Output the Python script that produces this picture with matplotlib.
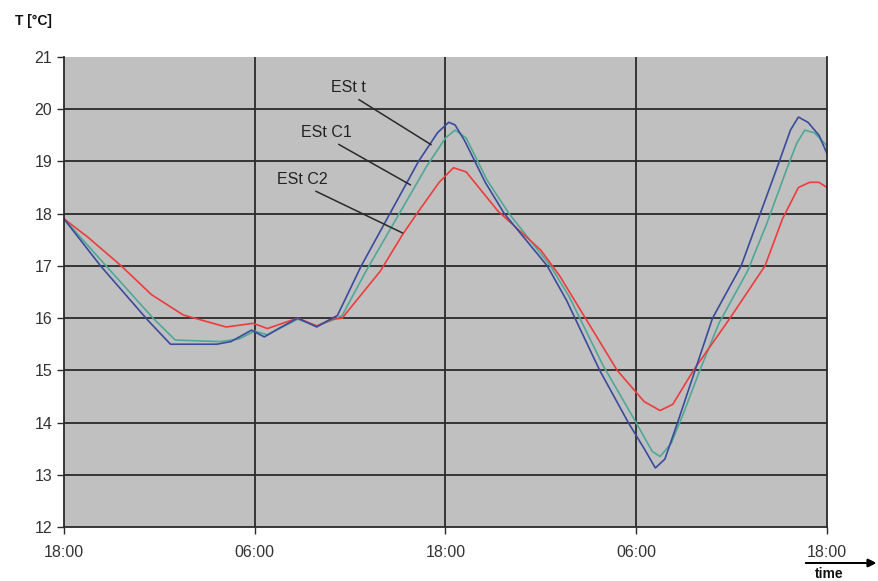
import numpy as np
import matplotlib.pyplot as plt

plt.rcParams['font.family'] = ['Liberation Sans', 'DejaVu Sans']

# time in hours after the first 18:00
t_blue = [0, 2.3, 5.3, 6.7, 9.6, 10.5, 11.8, 12.6, 13.5, 14.7, 15.9, 16.7, 17.2, 18.7,
          20.5, 22.3, 23.5, 24.2, 24.6, 25.2, 26.5, 27.7, 30.4, 31.6, 33.7, 35.5, 36.5,
          37.2, 37.8, 38.6, 39.7, 40.8, 42.6, 43.8, 45.0, 45.7, 46.2, 46.8, 47.5, 48]
est_t = [17.9, 17.0, 15.95, 15.5, 15.5, 15.55, 15.77, 15.64, 15.8, 16.0, 15.83, 15.97, 16.05, 17.0,
         18.0, 19.0, 19.55, 19.75, 19.7, 19.4, 18.6, 18.0, 17.0, 16.35, 15.0, 14.0, 13.5,
         13.13, 13.3, 14.0, 15.0, 16.0, 17.0, 18.0, 19.0, 19.6, 19.85, 19.75, 19.5, 19.15]

t_green = [0, 2.5, 5.6, 7.0, 9.8, 11.0, 12.0, 12.8, 14.7, 15.9, 16.8, 17.5, 19.0, 20.9,
           22.8, 24.0, 24.6, 25.3, 26.6, 28.0, 30.6, 31.8, 33.9, 35.8, 37.0, 37.5, 38.2,
           39.0, 40.0, 41.2, 43.0, 44.2, 45.4, 46.1, 46.6, 47.2, 48]
est_c1 = [17.9, 17.05, 16.0, 15.58, 15.55, 15.6, 15.75, 15.68, 15.98, 15.85, 15.95, 16.05, 16.9, 17.9,
          18.9, 19.45, 19.6, 19.45, 18.65, 18.0, 17.0, 16.4, 15.1, 14.1, 13.45, 13.35, 13.6,
          14.2, 15.0, 15.9, 16.9, 17.8, 18.8, 19.35, 19.6, 19.55, 19.3]

t_red = [0, 1.5, 3.6, 5.5, 7.5, 10.2, 11.9, 12.8, 14.7, 15.9, 16.8, 17.5, 19.9, 21.3,
         22.2, 23.6, 24.5, 25.3, 27.3, 30.0, 31.2, 32.8, 34.8, 36.5, 37.5, 38.3, 39.6,
         41.9, 44.1, 45.2, 46.2, 46.9, 47.5, 48]
est_c2 = [17.9, 17.55, 17.0, 16.45, 16.06, 15.83, 15.9, 15.8, 16.0, 15.85, 15.97, 16.0, 16.9, 17.6,
          18.0, 18.6, 18.88, 18.8, 18.05, 17.3, 16.8, 16.0, 15.0, 14.4, 14.23, 14.35, 15.0,
          16.0, 17.0, 17.9, 18.5, 18.6, 18.6, 18.5]

x_ticks = [0, 12, 24, 36, 48]
x_labels = ['18:00', '06:00', '18:00', '06:00', '18:00']
y_ticks = list(range(12, 22))

fig = plt.figure(figsize=(8.79, 5.81), dpi=100)
ax = fig.add_axes([64 / 879, 1 - 527 / 581, (827 - 64) / 879, (527 - 57) / 581])
ax.set_facecolor('#c0c0c0')

ax.plot(t_green, est_c1, color='#4fa896', lw=1.2)
ax.plot(t_red, est_c2, color='#ee3c3c', lw=1.2)
ax.plot(t_blue, est_t, color='#3a4a9c', lw=1.2)

ax.set_xlim(0, 48)
ax.set_ylim(12, 21)
ax.set_xticks(x_ticks)
ax.set_xticklabels(x_labels)
ax.set_yticks(y_ticks)

# grid lines
for y in y_ticks[1:-1]:
    ax.axhline(y, color='#2a2a2a', lw=1.3, zorder=1)
for x in x_ticks[1:-1]:
    ax.axvline(x, color='#2a2a2a', lw=1.3, zorder=1)

ax.spines['top'].set_visible(False)
for s in ['left', 'bottom', 'right']:
    ax.spines[s].set_color('#2a2a2a')
    ax.spines[s].set_linewidth(1.3)
ax.tick_params(axis='both', direction='out', length=5, width=1, color='#2a2a2a',
               labelsize=11.5, labelcolor='#333333')
ax.tick_params(axis='x', pad=8)

# leader labels
labels = [('ESt t', (17.9, 20.41), (23.1, 19.32)),
          ('ESt C1', (16.5, 19.55), (21.8, 18.55)),
          ('ESt C2', (15.0, 18.65), (21.3, 17.63))]
for txt, pos, tip in labels:
    ax.annotate(txt, xy=tip, xytext=pos, fontsize=11.5, color='#222222',
                ha='center', va='center',
                arrowprops=dict(arrowstyle='-', color='#2a2a2a', lw=1.1,
                                relpos=(0.6, 0), shrinkA=2, shrinkB=0))

fig.text(15 / 879, 1 - 21 / 581, 'T [°C]', fontsize=10, fontweight='bold',
         ha='left', va='center', color='#111111')
fig.text(829 / 879, 1 - 574 / 581, 'time', fontsize=10, fontweight='bold',
         ha='center', va='center', color='#111111')
fig.add_artist(plt.annotate('', xy=(879 / 879, 1 - 563 / 581), xytext=(803 / 879, 1 - 563 / 581),
                            xycoords='figure fraction', textcoords='figure fraction',
                            arrowprops=dict(arrowstyle='-|>', color='black', lw=1.3,
                                            mutation_scale=12)))

fig.savefig('out.png', dpi=100)
